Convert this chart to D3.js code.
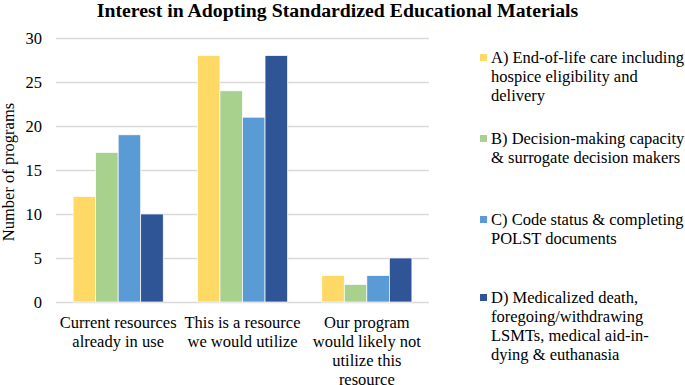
<!DOCTYPE html>
<html><head><meta charset="utf-8">
<script src="https://cdn.jsdelivr.net/npm/d3@7"></script>
<style>body{margin:0;background:#fff}svg{display:block}</style>
</head><body>
<svg id="c" width="685" height="385"></svg>
<script>
const categories = [
  ["Current resources", "already in use"],
  ["This is a resource", "we would utilize"],
  ["Our program", "would likely not", "utilize this", "resource"]
];
const seriesNames = [
  ["A) End-of-life care including", "hospice eligibility and", "delivery"],
  ["B) Decision-making capacity", "& surrogate decision makers"],
  ["C) Code status & completing", "POLST documents"],
  ["D) Medicalized death,", "foregoing/withdrawing", "LSMTs, medical aid-in-", "dying & euthanasia"]
];
const seriesA = [12, 28, 3];
const seriesB = [17, 24, 2];
const seriesC = [19, 21, 3];
const seriesD = [10, 28, 5];
const yTicks = [0, 5, 10, 15, 20, 25, 30];
const colors = ["#FFD966", "#A9D18E", "#5B9BD5", "#2F5597"];
const series = [seriesA, seriesB, seriesC, seriesD];

const FONT = '"Liberation Serif", "Times New Roman", Times, serif';
const FS = "16.5px";
const svg = d3.select("#c");
const pLeft = 56, pRight = 429, pTop = 38, pBottom = 302;

const x0 = d3.scaleBand().domain(d3.range(categories.length)).range([pLeft, pRight]).paddingInner(0.275).paddingOuter(0.1375);
const x1 = d3.scaleBand().domain(d3.range(series.length)).range([0, x0.bandwidth()]);
const y = d3.scaleLinear().domain([0, 30]).range([pBottom, pTop]);

// title
svg.append("text").attr("x", 337.5).attr("y", 17).attr("text-anchor", "middle")
  .style("font-family", FONT).style("font-weight", "bold").style("font-size", "19.8px").attr("fill", "#000")
  .text("Interest in Adopting Standardized Educational Materials");

// gridlines
const yAxis = d3.axisLeft(y).tickValues(yTicks).tickSize(-(pRight - pLeft)).tickPadding(14);
const ga = svg.append("g").attr("transform", `translate(${pLeft},0)`).call(yAxis);
ga.select(".domain").remove();
ga.selectAll(".tick line").attr("stroke", "#d9d9d9").attr("stroke-width", 1.3);
ga.selectAll(".tick text").style("font-size", FS).style("font-family", FONT).attr("fill", "#000");

// y label
svg.append("text").attr("transform", "translate(14,172) rotate(-90)").attr("text-anchor", "middle")
  .style("font-family", FONT).style("font-size", FS).attr("fill", "#000").text("Number of programs");

// bars
series.forEach((s, si) => {
  svg.append("g").selectAll("rect").data(s).join("rect")
    .attr("x", (d, i) => x0(i) + x1(si))
    .attr("width", x1.bandwidth())
    .attr("y", d => y(d))
    .attr("height", d => y(0) - y(d))
    .attr("fill", colors[si])
    .attr("stroke", "#fff").attr("stroke-width", 0.7);
});

// x labels
categories.forEach((lines, i) => {
  const t = svg.append("text").attr("text-anchor", "middle")
    .style("font-family", FONT).style("font-size", FS).attr("fill", "#000");
  lines.forEach((l, j) => {
    t.append("tspan").attr("x", x0(i) + x0.bandwidth() / 2).attr("y", 328 + j * 19).text(l);
  });
});

// legend
const legendY = [63, 144, 225, 303];
seriesNames.forEach((lines, si) => {
  svg.append("rect").attr("x", 480).attr("y", legendY[si] - 9).attr("width", 7).attr("height", 7).attr("fill", colors[si]);
  const t = svg.append("text").style("font-family", FONT).style("font-size", FS).attr("fill", "#000");
  lines.forEach((l, j) => {
    t.append("tspan").attr("x", 491).attr("y", legendY[si] + j * 19).text(l);
  });
});
</script>
</body></html>
